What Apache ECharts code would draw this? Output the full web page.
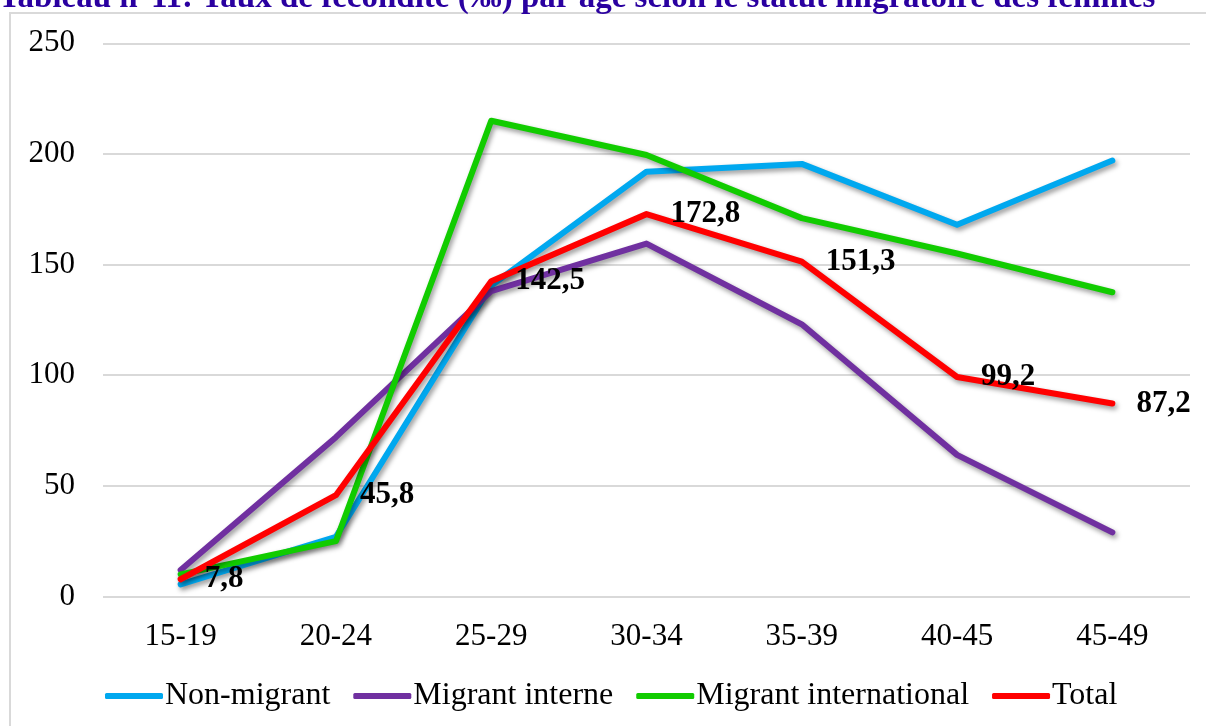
<!DOCTYPE html>
<html>
<head>
<meta charset="utf-8">
<script src="https://cdn.jsdelivr.net/npm/echarts@6/dist/echarts.min.js"></script>
<style>
html,body{margin:0;padding:0;background:#fff;}
#chart{width:1206px;height:726px;}
</style>
</head>
<body>
<div id="chart"></div>
<script>
const titleText = "Tableau n°11: Taux de fécondité (‰) par âge selon le statut migratoire des femmes";
const categories = ["15-19", "20-24", "25-29", "30-34", "35-39", "40-45", "45-49"];
const seriesNames = ["Non-migrant", "Migrant interne", "Migrant international", "Total"];
const nonMigrant = [5.5, 27, 140.5, 192, 195.5, 168, 197];
const migrantInterne = [12, 72, 138, 159.5, 123, 64, 29];
const migrantInternational = [10, 25, 215, 199.5, 171, 155, 137.5];
const total = [7.8, 45.8, 142.5, 172.8, 151.3, 99.2, 87.2];
const yTicks = [0, 50, 100, 150, 200, 250];

const colors = ["#00A8EF", "#7030A0", "#11CC00", "#FF0000"];
const font = "'Liberation Serif', 'Times New Roman', serif";

function mk(name, data, color, withLabels) {
  return {
    name: name,
    type: 'line',
    data: data,
    symbol: 'circle',
    symbolSize: 0.1,
    showSymbol: true,
    color: color,
    z: 2,
    itemStyle: { color: color },
    lineStyle: {
      width: 6, color: color, cap: 'round', join: 'round',
      shadowColor: 'rgba(0,0,0,0.4)', shadowBlur: 5, shadowOffsetX: 2, shadowOffsetY: 3
    },
    label: withLabels ? {
      show: true, position: 'right', distance: 24,
      fontFamily: font, fontSize: 31, fontWeight: 'bold', color: '#000',
      formatter: p => String(p.value).replace('.', ',')
    } : { show: false },
    labelLayout: { hideOverlap: false },
    emphasis: { disabled: true },
    animation: false
  };
}

const chart = echarts.init(document.getElementById('chart'), null, { renderer: 'canvas' });
chart.setOption({
  backgroundColor: '#fff',
  animation: false,
  graphic: [
    { type: 'rect', shape: { x: 10, y: 13, width: 1400, height: 900 }, style: { fill: 'none', stroke: '#d9d9d9', lineWidth: 2 }, z: -1 },
    { type: 'text', x: 577, y: -2, style: { text: titleText, fill: '#2A00A0', font: "bold 33px 'Liberation Serif', serif", align: 'center', verticalAlign: 'middle' }, z: 10 }
  ],
  grid: { left: 103, right: 16, top: 43.3, bottom: 129.5, containLabel: false },
  xAxis: {
    type: 'category', data: categories, boundaryGap: true,
    axisLine: { show: false }, axisTick: { show: false },
    axisLabel: { fontFamily: font, fontSize: 31, color: '#000', margin: 25 },
    splitLine: { show: false }
  },
  yAxis: {
    type: 'value', min: yTicks[0], max: yTicks[yTicks.length - 1], interval: 50,
    axisLine: { show: false }, axisTick: { show: false },
    axisLabel: { fontFamily: font, fontSize: 31, color: '#000', margin: 28 },
    splitLine: { lineStyle: { color: '#d9d9d9', width: 2 } }
  },
  legend: {
    data: seriesNames, top: 675, left: 100,
    icon: 'roundRect', itemWidth: 58, itemHeight: 6, itemGap: 23,
    textStyle: { fontFamily: font, fontSize: 32, color: '#000', padding: [0, 0, 0, -3] }
  },
  series: [
    mk(seriesNames[0], nonMigrant, colors[0], false),
    mk(seriesNames[1], migrantInterne, colors[1], false),
    mk(seriesNames[2], migrantInternational, colors[2], false),
    mk(seriesNames[3], total, colors[3], true)
  ]
});
</script>
</body>
</html>
